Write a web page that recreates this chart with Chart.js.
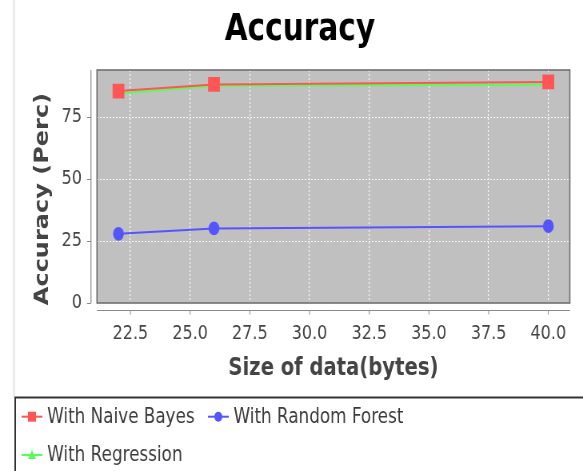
<!DOCTYPE html>
<html>
<head>
<meta charset="utf-8">
<script src="https://cdn.jsdelivr.net/npm/chart.js@4/dist/chart.umd.min.js"></script>
<style>
  html, body { margin: 0; padding: 0; background: #fff; overflow: hidden; }
  #wrap { width: 583px; height: 471px; overflow: hidden; }
  /* the original picture is squeezed sideways, so the canvas is drawn wider and narrowed */
  #accChart { width: 729px; height: 471px; transform: scaleX(0.79973); transform-origin: 0 0; }
</style>
</head>
<body>
<div id="wrap"><canvas id="accChart" width="729" height="471"></canvas></div>
<script>
// data
const sizes = [22, 26, 40];
const naiveBayes = [85.5, 88.2, 89.2];
const randomForest = [27.9, 30.1, 31.0];
const regression = [84.5, 87.6, 88.0];
const xTicks = [22.5, 25.0, 27.5, 30.0, 32.5, 35.0, 37.5, 40.0];
const yTicks = [0, 25, 50, 75];

const FONT = "'DejaVu Sans', sans-serif";

function pts(ys) {
    return sizes.map((x, i) => ({ x: x, y: ys[i] }));
}

// gray plot background, border and offset axis lines like the original
const plotFrame = {
    id: 'plotFrame',
    beforeDraw(chart) {
        const { ctx, chartArea: a } = chart;
        ctx.save();
        ctx.fillStyle = '#c0c0c0';
        ctx.fillRect(a.left, a.top, a.right - a.left, a.bottom - a.top);
        ctx.restore();
    },
    afterDatasetsDraw(chart) {
        const { ctx, chartArea: a, scales } = chart;
        ctx.save();
        ctx.strokeStyle = '#707070';
        ctx.lineWidth = 1.6;
        ctx.strokeRect(a.left, a.top, a.right - a.left, a.bottom - a.top);

        ctx.strokeStyle = '#888';
        ctx.lineWidth = 1.2;
        const ax = a.left - 7.5;
        ctx.beginPath();
        ctx.moveTo(ax, a.top);
        ctx.lineTo(ax, a.bottom);
        yTicks.forEach(v => {
            const y = Math.round(scales.y.getPixelForValue(v)) + 0.5;
            ctx.moveTo(ax - 5, y);
            ctx.lineTo(ax, y);
        });
        ctx.stroke();

        ctx.lineWidth = 1;
        const ay = a.bottom + 7.5;
        ctx.beginPath();
        ctx.moveTo(a.left, ay);
        ctx.lineTo(a.right, ay);
        xTicks.forEach(v => {
            const x = scales.x.getPixelForValue(v);
            ctx.moveTo(x, ay);
            ctx.lineTo(x, ay + 4);
        });
        ctx.stroke();
        ctx.restore();
    }
};

function drawMarker(ctx, style, x, y, r, color) {
    ctx.fillStyle = color;
    ctx.beginPath();
    if (style === 'rect') {
        ctx.rect(x - r, y - r, 2 * r, 2 * r);
    } else if (style === 'circle') {
        ctx.arc(x, y, r, 0, Math.PI * 2);
    } else {
        ctx.moveTo(x, y - r);
        ctx.lineTo(x + r, y + r * 0.8);
        ctx.lineTo(x - r, y + r * 0.8);
        ctx.closePath();
    }
    ctx.fill();
}

// boxed legend under the chart, two rows like the original
const boxLegend = {
    id: 'boxLegend',
    afterDraw(chart) {
        const ctx = chart.ctx;
        ctx.save();
        ctx.strokeStyle = '#d0d0d0';
        ctx.lineWidth = 1.2;
        ctx.beginPath();
        ctx.moveTo(17.5, 0);
        ctx.lineTo(17.5, 397);
        ctx.stroke();

        ctx.strokeStyle = '#333';
        ctx.lineWidth = 2;
        ctx.strokeRect(19, 397.5, 800, 100);

        const slots = [[27, 416.7], [260, 416.7], [27, 455]];
        ctx.font = '21px ' + FONT;
        ctx.textBaseline = 'middle';
        ctx.textAlign = 'left';
        chart.data.datasets.forEach((ds, i) => {
            const [sx, sy] = slots[i];
            ctx.strokeStyle = ds.borderColor;
            ctx.lineWidth = 2;
            ctx.beginPath();
            ctx.moveTo(sx, sy);
            ctx.lineTo(sx + 26, sy);
            ctx.stroke();
            drawMarker(ctx, ds.pointStyle, sx + 13, sy, 5, ds.backgroundColor);
            ctx.fillStyle = '#3c3c3c';
            ctx.fillText(ds.label, sx + 32, sy + 1);
        });
        ctx.restore();
    }
};

const config = {
    type: 'line',
    data: {
        datasets: [
            {
                label: 'With Naive Bayes',
                data: pts(naiveBayes),
                borderColor: '#ff5555',
                backgroundColor: '#ff5555',
                pointStyle: 'rect',
                pointRadius: 9,
                borderWidth: 2
            },
            {
                label: 'With Random Forest',
                data: pts(randomForest),
                borderColor: '#5555ff',
                backgroundColor: '#5555ff',
                pointStyle: 'circle',
                pointRadius: 5.8,
                borderWidth: 2
            },
            {
                label: 'With Regression',
                data: pts(regression),
                borderColor: '#55ff55',
                backgroundColor: '#55ff55',
                pointStyle: 'triangle',
                pointRadius: 6,
                borderWidth: 2
            }
        ]
    },
    options: {
        responsive: false,
        animation: false,
        devicePixelRatio: 1,
        layout: {
            padding: { left: 37.5, right: 16.5, top: 0, bottom: 74 }
        },
        elements: {
            point: { borderWidth: 0 },
            line: { tension: 0 }
        },
        scales: {
            x: {
                type: 'linear',
                min: 21.1,
                max: 40.9,
                afterBuildTicks(scale) {
                    scale.ticks = xTicks.map(v => ({ value: v }));
                },
                afterFit(scale) { scale.height = 94; },
                ticks: {
                    padding: 18.8,
                    color: '#444',
                    font: { family: FONT, size: 20 },
                    callback: v => Number(v).toFixed(1)
                },
                grid: {
                    color: 'rgba(255,255,255,0.9)',
                    lineWidth: 1.2,
                    drawTicks: false
                },
                border: { display: false, dash: [2, 2] },
                title: {
                    display: true,
                    text: 'Size of data(bytes)',
                    color: '#444',
                    font: { family: FONT, size: 24.5, weight: 'bold' },
                    padding: { top: 0, bottom: 13.8 }
                }
            },
            y: {
                min: 0,
                max: 94,
                afterBuildTicks(scale) {
                    scale.ticks = yTicks.map(v => ({ value: v }));
                },
                afterFit(scale) { scale.width = 83.75; },
                ticks: {
                    padding: 18.75,
                    color: '#444',
                    font: { family: FONT, size: 20 }
                },
                grid: {
                    color: 'rgba(255,255,255,0.9)',
                    lineWidth: 1,
                    drawTicks: false
                },
                border: { display: false, dash: [2, 2] },
                title: {
                    display: true,
                    text: 'Accuracy (Perc)   ',
                    color: '#444',
                    font: { family: FONT, size: 24, weight: 'bold' },
                    padding: { top: 2.3, bottom: 0 }
                }
            }
        },
        plugins: {
            legend: { display: false },
            tooltip: { enabled: false },
            title: {
                display: true,
                text: 'Accuracy',
                color: '#000',
                font: { family: FONT, size: 37, weight: 'bold', lineHeight: 1.2 },
                padding: { top: 8, bottom: 17.6 }
            }
        }
    },
    plugins: [plotFrame, boxLegend]
};

new Chart(document.getElementById('accChart').getContext('2d'), config);
</script>
</body>
</html>
